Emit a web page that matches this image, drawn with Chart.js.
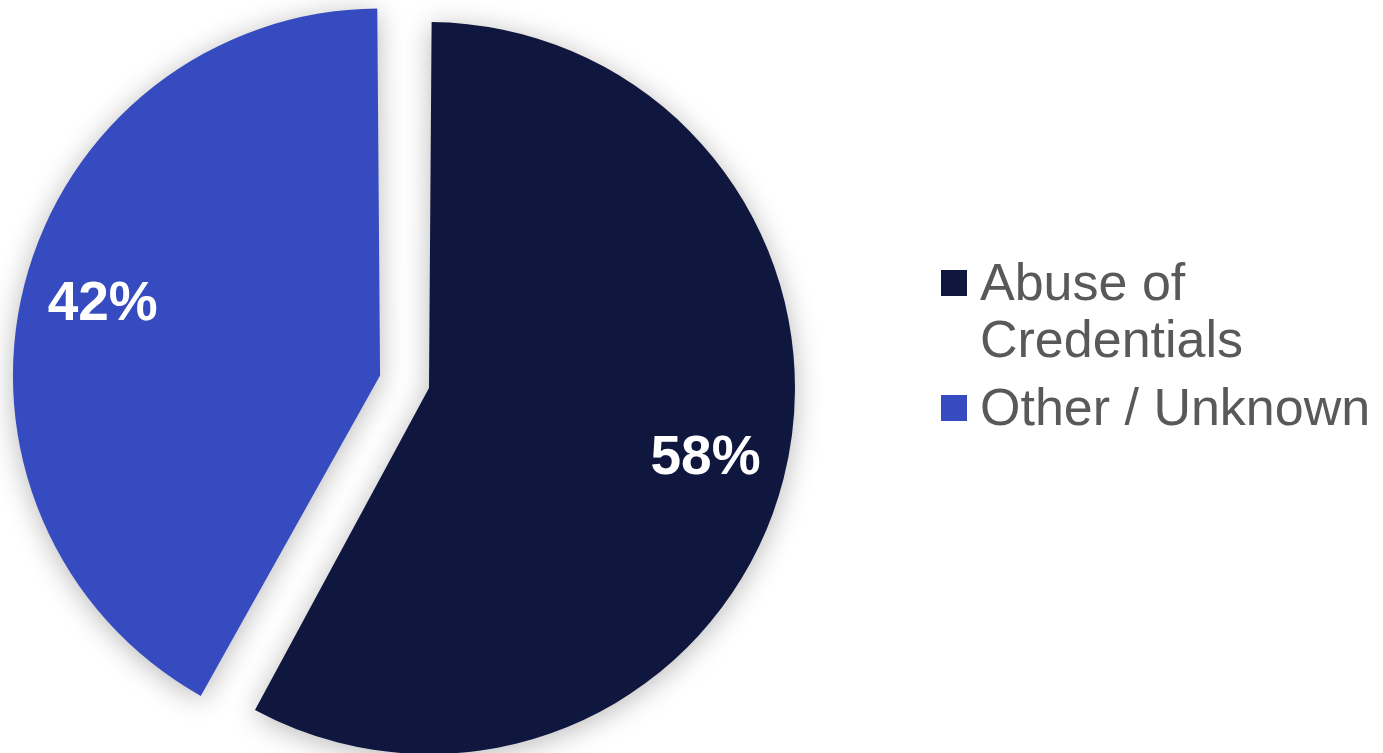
<!DOCTYPE html>
<html>
<head>
<meta charset="utf-8">
<script src="https://cdn.jsdelivr.net/npm/chart.js@4.4.1/dist/chart.umd.min.js"></script>
<style>
  html, body { margin: 0; padding: 0; background: #fff; }
  #wrap { width: 1383px; height: 753px; position: relative; }
</style>
</head>
<body>
<div id="wrap"><canvas id="pie"></canvas></div>
<script>
// data
const categories = [['Abuse of', 'Credentials'], ['Other / Unknown']];
const shares = [58, 42];
const sliceColors = ['#10173f', '#364bbf'];
const sliceOffsets = [66, 136];

// soft shadow under the slices
const shadowPlugin = {
  id: 'shadow',
  beforeDatasetsDraw(chart) {
    const ctx = chart.ctx;
    ctx.save();
    ctx.shadowColor = 'rgba(0, 0, 0, 0.28)';
    ctx.shadowBlur = 28;
    ctx.shadowOffsetX = 0;
    ctx.shadowOffsetY = 4;
  },
  afterDatasetsDraw(chart) {
    chart.ctx.restore();
  }
};

// percentage inside each slice
const pctLabels = {
  id: 'pctLabels',
  afterDatasetsDraw(chart) {
    const ctx = chart.ctx;
    const meta = chart.getDatasetMeta(0);
    ctx.save();
    ctx.fillStyle = '#ffffff';
    ctx.font = 'bold 55px "Liberation Sans", Arial, sans-serif';
    ctx.textAlign = 'center';
    ctx.textBaseline = 'middle';
    meta.data.forEach((arc, i) => {
      const mid = (arc.startAngle + arc.endAngle) / 2;
      const o = (arc.options.offset || 0) / 4;
      const circ = arc.endAngle - arc.startAngle;
      const r = arc.outerRadius + o * (1 - Math.sin(Math.min(Math.PI, circ)));
      const d = o + r * 0.78;
      ctx.fillText(shares[i] + '%', arc.x + Math.cos(mid) * d, arc.y + Math.sin(mid) * d);
    });
    ctx.restore();
  }
};

// legend on the right
const sideLegend = {
  id: 'sideLegend',
  afterDraw(chart) {
    const ctx = chart.ctx;
    const boxX = 941, box = 26, textX = 980;
    const lineH = 57, itemGap = 68;
    let baseline = 300;
    ctx.save();
    ctx.font = '52px "Liberation Sans", Arial, sans-serif';
    ctx.textAlign = 'left';
    ctx.textBaseline = 'alphabetic';
    categories.forEach((lines, i) => {
      ctx.fillStyle = sliceColors[i];
      ctx.fillRect(boxX, baseline - 30, box, box);
      ctx.fillStyle = '#595959';
      lines.forEach((t, j) => {
        ctx.fillText(t, textX, baseline + j * lineH);
      });
      baseline += (lines.length - 1) * lineH + itemGap;
    });
    ctx.restore();
  }
};

new Chart(document.getElementById('pie'), {
  type: 'pie',
  data: {
    labels: categories.map(l => l.join(' ')),
    datasets: [{
      data: shares,
      backgroundColor: sliceColors,
      borderWidth: 0,
      offset: sliceOffsets
    }]
  },
  options: {
    responsive: true,
    maintainAspectRatio: false,
    animation: false,
    radius: 349.5,
    layout: { padding: { top: 15, right: 557, left: 0, bottom: 0 } },
    plugins: {
      legend: { display: false },
      tooltip: { enabled: false }
    }
  },
  plugins: [shadowPlugin, pctLabels, sideLegend]
});
</script>
</body>
</html>
